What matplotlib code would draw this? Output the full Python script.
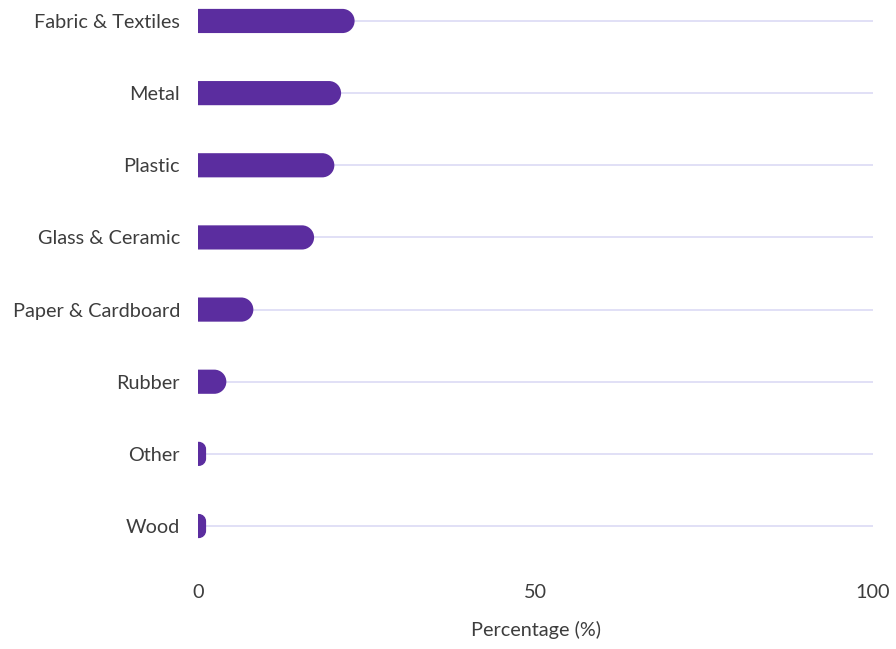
import matplotlib
matplotlib.use("Agg")
import matplotlib.pyplot as plt
from matplotlib.path import Path
from matplotlib.patches import PathPatch

categories = ["Fabric & Textiles", "Metal", "Plastic", "Glass & Ceramic",
              "Paper & Cardboard", "Rubber", "Other", "Wood"]
values = [23.2, 21.2, 20.2, 17.2, 8.2, 4.2, 1.2, 1.2]
xticks = [0, 50, 100]

plt.rcParams['font.family'] = ['Lato', 'DejaVu Sans']
W, H = 896, 649
fig = plt.figure(figsize=(W / 100, H / 100), dpi=100)
left, right = 198, 873
top, bottom = 21 - 36.1, 526 + 36.1
ax = fig.add_axes([left / W, 1 - bottom / H, (right - left) / W, (bottom - top) / H])
ax.set_xlim(0, 100)
ax.set_ylim(len(categories) - 0.5, -0.5)

bar_color = "#5B2D9F"
grid_color = "#DCDAF5"
text_color = "#3d3d3d"
fs = 14.3

ypos = list(range(len(categories)))
for y in ypos:
    ax.plot([0, 100], [y, y], color=grid_color, lw=1.2, zorder=1, solid_capstyle='butt')

bars = ax.barh(ypos, values, height=0.335, color=bar_color, zorder=2)
fig.canvas.draw()
px_x = (ax.transData.transform((1, 0))[0] - ax.transData.transform((0, 0))[0])
px_y = abs(ax.transData.transform((0, 1))[1] - ax.transData.transform((0, 0))[1])
k = 0.5523
for b in bars:
    x0, y0 = b.get_x(), b.get_y()
    w, h = b.get_width(), b.get_height()
    x1, y1 = x0 + w, y0 + h
    hpx = h * px_y
    wpx = w * px_x
    r = min(hpx / 2, wpx * 0.9)
    rx, ry = r / px_x, r / px_y
    verts = [(x0, y0), (x1 - rx, y0),
             (x1 - rx + k * rx, y0), (x1, y0 + ry - k * ry), (x1, y0 + ry),
             (x1, y1 - ry),
             (x1, y1 - ry + k * ry), (x1 - rx + k * rx, y1), (x1 - rx, y1),
             (x0, y1), (x0, y0)]
    codes = [Path.MOVETO, Path.LINETO,
             Path.CURVE4, Path.CURVE4, Path.CURVE4,
             Path.LINETO,
             Path.CURVE4, Path.CURVE4, Path.CURVE4,
             Path.LINETO, Path.CLOSEPOLY]
    ax.add_patch(PathPatch(Path(verts, codes), facecolor=bar_color, edgecolor='none', zorder=3))
    b.set_visible(False)

ax.set_yticks(ypos)
ax.set_yticklabels(categories)
ax.set_xticks(xticks)
ax.set_xticklabels([str(t) for t in xticks])
ax.tick_params(axis='y', length=0, pad=13, labelsize=fs, labelcolor=text_color)
ax.tick_params(axis='x', length=0, pad=16, labelsize=fs, labelcolor=text_color)
for s in ax.spines.values():
    s.set_visible(False)
ax.set_xlabel("Percentage (%)", fontsize=fs, color=text_color, labelpad=14)

fig.savefig("out.png", dpi=100)
